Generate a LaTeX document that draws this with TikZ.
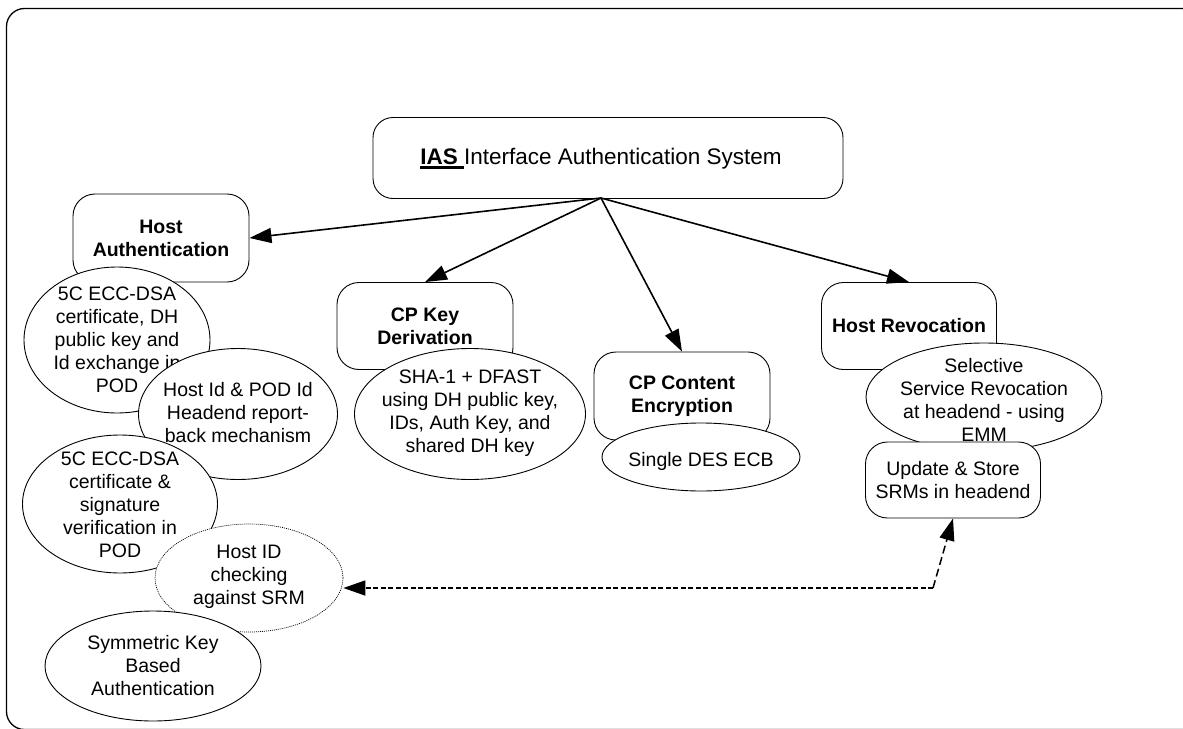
\documentclass[tikz,border=0pt]{standalone}
\usepackage{fontspec}
\setmainfont{Liberation Sans}
\usetikzlibrary{arrows.meta,shapes.geometric,calc}

% thick underline used for the system acronym
\newcommand\thickul[1]{\setbox0\hbox{#1}\rlap{\rule[-4pt]{\wd0}{2.6pt}}\box0}

\begin{document}
\begin{tikzpicture}[x=1pt,y=-1pt,
  every node/.style={font=\fontsize{19.5}{23}\selectfont, align=center},
  rbox/.style={draw, line width=0.9pt, fill=white, rounded corners=22pt, inner sep=0pt},
  ell/.style={draw, line width=0.9pt, fill=white, ellipse, inner sep=0pt},
  txt/.style={inner sep=0pt},
  link/.style={line width=1.6pt, -{Triangle[length=22pt,width=15pt]}},
  hdash/.style={line width=1.5pt, dash pattern=on 5pt off 2.5pt, -{Triangle[length=22pt,width=15pt]}},
  sdash/.style={line width=1.5pt, dash pattern=on 8pt off 4pt, -{Triangle[length=22pt,width=15pt]}},
]
\useasboundingbox (0,0) rectangle (1183,728);
\clip (0,0) rectangle (1183,728);

% outer frame
\draw[line width=1.3pt, rounded corners=18pt] (6.5,8.5) rectangle (1200,729.5);

% root box
\node[rbox, rounded corners=20pt, minimum width=470pt, minimum height=81pt] (ias) at (608,158) {};
\node[txt, font=\fontsize{22.5}{27}\selectfont] (iastxt) at (601,159) {\thickul{\textbf{IAS} }Interface Authentication System};

% host authentication column
\node[rbox, minimum width=176pt, minimum height=88pt] (hostauth) at (161,238) {\textbf{Host}\\\textbf{Authentication}};
\node[ell, minimum width=186pt, minimum height=146pt] (e1) at (117,340) {};
\node[txt] (e1txt) at (117,340) {5C ECC-DSA\\certificate, DH\\public key and\\Id exchange in\\POD};
\node[ell, minimum width=199pt, minimum height=131pt] (e2) at (238,414) {};
\node[txt] (e2txt) at (238,412.5) {Host Id \& POD Id\\Headend report-\\back mechanism};
\node[ell, minimum width=195pt, minimum height=138pt] (e3) at (120,504) {};
\node[txt] (e3txt) at (120,505) {5C ECC-DSA\\certificate \&\\signature\\verification in\\POD};
\node[ell, minimum width=188pt, minimum height=108pt, line width=0.7pt, dash pattern=on 1pt off 1pt] (hostid) at (249,578) {};
\node[txt] (hostidtxt) at (249,577) {Host ID\\checking\\against SRM};
\node[ell, minimum width=216pt, minimum height=110pt] (e5) at (153,666) {};
\node[txt] (e5txt) at (153,665.5) {Symmetric Key\\Based\\Authentication};

% key derivation
\node[rbox, minimum width=176pt, minimum height=87pt] (cpkey) at (425,326) {\textbf{CP Key}\\\textbf{Derivation}};
\node[ell, minimum width=231pt, minimum height=131pt] (sha) at (470,414) {};
\node[txt] (shatxt) at (470,413) {SHA-1 + DFAST\\using DH public key,\\IDs, Auth Key, and\\shared DH key};

% content encryption
\node[rbox, minimum width=176pt, minimum height=88pt] (cpcont) at (682,396) {\textbf{CP Content}\\\textbf{Encryption}};
\node[ell, minimum width=198pt, minimum height=68pt] (des) at (701,457) {};
\node[txt] (destxt) at (701,461) {Single DES ECB};

% revocation
\node[rbox, minimum width=175pt, minimum height=87pt] (hostrev) at (909,326) {\textbf{Host Revocation}};
\node[ell, minimum width=236pt, minimum height=108pt] (sel) at (984,397) {};
\node[txt] (seltxt) at (984,400) {Selective\\Service Revocation\\at headend - using\\EMM};
\node[rbox, minimum width=175pt, minimum height=76pt] (update) at (953,480) {Update \& Store\\SRMs in headend};

% connectors from the root
\coordinate (hub) at (601,198);
\draw[link] (hub) -- (hostauth.east);
\draw[link] (hub) -- (cpkey.north);
\draw[link] (hub) -- (cpcont.north);
\draw[link] (hub) -- (hostrev.north);

% SRM link between headend and host id check
\coordinate (bend) at (933,588);
\draw[sdash] (bend) -- (update.south);
\draw[hdash] (bend) -- (hostid.east |- bend);
\end{tikzpicture}
\end{document}
